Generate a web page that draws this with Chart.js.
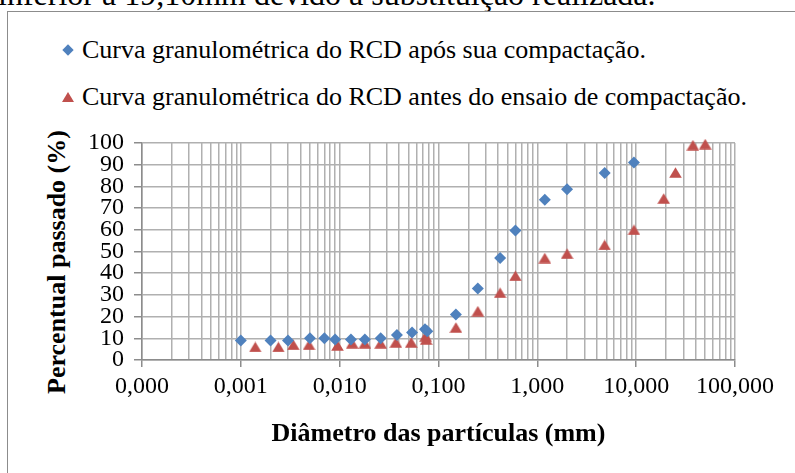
<!DOCTYPE html>
<html>
<head>
<meta charset="utf-8">
<script src="https://cdn.jsdelivr.net/npm/chart.js@4/dist/chart.umd.min.js"></script>
<style>
  body { margin: 0; background: #fff; overflow: hidden; font-family: "Liberation Serif", "Times New Roman", serif; }
  #wrap { position: relative; width: 795px; height: 473px; overflow: hidden; }
  #frame { position: absolute; left: 7px; top: 11px; width: 820px; height: 500px; border: 1.5px solid #8c8c8c; }
  #cut { position: absolute; left: -2px; top: -22px; font-size: 32px; line-height: 32px; white-space: nowrap; color: #000; }
  .leg { position: absolute; left: 82px; font-size: 26px; line-height: 26px; white-space: nowrap; color: #000; }
  #dia { position: absolute; left: 64px; top: 46px; width: 8px; height: 8px; background: #4f81bd; transform: rotate(45deg); }
  #tri { position: absolute; left: 62px; top: 92px; width: 0; height: 0; border-left: 6px solid transparent; border-right: 6px solid transparent; border-bottom: 10px solid #c0504d; }
  #ytitle { position: absolute; left: 57px; top: 262px; transform: translate(-50%, -50%) rotate(-90deg); font-size: 26px; font-weight: bold; white-space: nowrap; color: #000; }
  canvas { position: absolute; left: 0; top: 0; }
</style>
</head>
<body>
<div id="wrap">
  <div id="cut">inferior a 19,10mm devido à substituição realizada.</div>
  <div id="frame"></div>
  <div id="dia"></div>
  <div class="leg" style="top:37px">Curva granulométrica do RCD após sua compactação.</div>
  <div id="tri"></div>
  <div class="leg" style="top:84px">Curva granulométrica do RCD antes do ensaio de compactação.</div>
  <div id="ytitle">Percentual passado (%)</div>
  <canvas id="canvas1" width="795" height="473"></canvas>
</div>
<script>
// curva apos compactacao (diamantes azuis)
var aposX = [0.001, 0.002, 0.003, 0.005, 0.007, 0.009, 0.013, 0.018, 0.026, 0.038, 0.054, 0.073, 0.077, 0.15, 0.25, 0.42, 0.6, 1.19, 2.0, 4.8, 9.5];
var aposY = [9, 9, 9, 10, 10, 9.5, 9.5, 9.5, 10, 11.5, 12.7, 14.2, 13.2, 21, 33, 47, 59.7, 73.8, 78.7, 86.2, 91];

// curva antes do ensaio (triangulos vermelhos)
var antesX = [0.0014, 0.0024, 0.0034, 0.0049, 0.0095, 0.0134, 0.018, 0.026, 0.037, 0.053, 0.074, 0.075, 0.15, 0.25, 0.42, 0.6, 1.19, 2.0, 4.8, 9.5, 19, 25, 37.5, 50];
var antesY = [6, 6, 7, 7, 6.7, 7.7, 7.7, 7.7, 8.1, 8.1, 11, 9.5, 15, 22.5, 31, 38.8, 47, 49, 53, 60, 74.4, 86.4, 99, 99.5];

// ticks do eixo x (log)
var xTicks = [];
for (var e = -4; e <= 2; e++) {
  for (var m = 1; m <= 9; m++) {
    var v = m * Math.pow(10, e);
    if (v > 100.0001) break;
    xTicks.push(+v.toPrecision(3));
  }
}
function isDecade(v) {
  var l = Math.log10(v);
  return Math.abs(l - Math.round(l)) < 1e-6;
}

var serif = '"Liberation Serif", "Times New Roman", serif';
var gridColor = '#b0b0b0';
var axisColor = '#8c8c8c';

// marcador triangulo centrado na caixa (como no Excel)
function triangleMarker(color) {
  var c = document.createElement('canvas');
  c.width = 13; c.height = 11;
  var g = c.getContext('2d');
  g.fillStyle = color;
  g.beginPath();
  g.moveTo(6.5, 0.3);
  g.lineTo(12.8, 10.8);
  g.lineTo(0.2, 10.8);
  g.closePath();
  g.fill();
  return c;
}

function toPoints(xs, ys) {
  return xs.map(function (x, i) { return { x: x, y: ys[i] }; });
}

document.addEventListener("DOMContentLoaded", function () {
  var ctx = document.getElementById('canvas1');
  new Chart(ctx, {
    type: 'scatter',
    data: {
      datasets: [
        {
          label: 'Curva granulométrica do RCD após sua compactação.',
          data: toPoints(aposX, aposY),
          pointStyle: 'rectRot',
          pointRadius: 6,
          backgroundColor: '#4f81bd',
          borderColor: '#4f81bd',
          borderWidth: 0,
          clip: false
        },
        {
          label: 'Curva granulométrica do RCD antes do ensaio de compactação.',
          data: toPoints(antesX, antesY),
          pointStyle: triangleMarker('#c0504d'),
          backgroundColor: '#c0504d',
          borderColor: '#c0504d',
          clip: false
        }
      ]
    },
    options: {
      responsive: false,
      animation: false,
      layout: { padding: { left: 0, top: 143, right: 60, bottom: 0 } },
      plugins: { legend: { display: false }, tooltip: { enabled: false } },
      scales: {
        x: {
          type: 'logarithmic',
          min: 0.0001,
          max: 100,
          afterBuildTicks: function (s) {
            s.ticks = xTicks.map(function (v) { return { value: v, major: isDecade(v) }; });
          },
          afterFit: function (s) {
            s.height = 113;
            s.paddingLeft = 0;
            s.paddingRight = 0;
          },
          ticks: {
            autoSkip: false,
            maxRotation: 0,
            minRotation: 0,
            padding: 5,
            color: '#000',
            font: { family: serif, size: 24 },
            callback: function (v) {
              return isDecade(v) ? v.toFixed(3).replace('.', ',') : '';
            }
          },
          grid: {
            color: gridColor,
            lineWidth: 1.5,
            tickLength: 7,
            tickColor: function (c) {
              return (c.tick && isDecade(c.tick.value)) ? axisColor : 'rgba(0,0,0,0)';
            }
          },
          border: { color: axisColor, width: 1.5 },
          title: {
            display: true,
            text: 'Diâmetro das partículas (mm)',
            color: '#000',
            font: { family: serif, size: 26, weight: 'bold' },
            padding: { top: 0, bottom: 23 }
          }
        },
        y: {
          min: 0,
          max: 100,
          afterFit: function (s) { s.width = 142; },
          ticks: {
            stepSize: 10,
            autoSkip: false,
            padding: 10,
            color: '#000',
            font: { family: serif, size: 24 }
          },
          grid: { color: gridColor, lineWidth: 1.5, tickLength: 8, tickColor: axisColor },
          border: { color: axisColor, width: 1.5 }
        }
      }
    }
  });
});
</script>
</body>
</html>
